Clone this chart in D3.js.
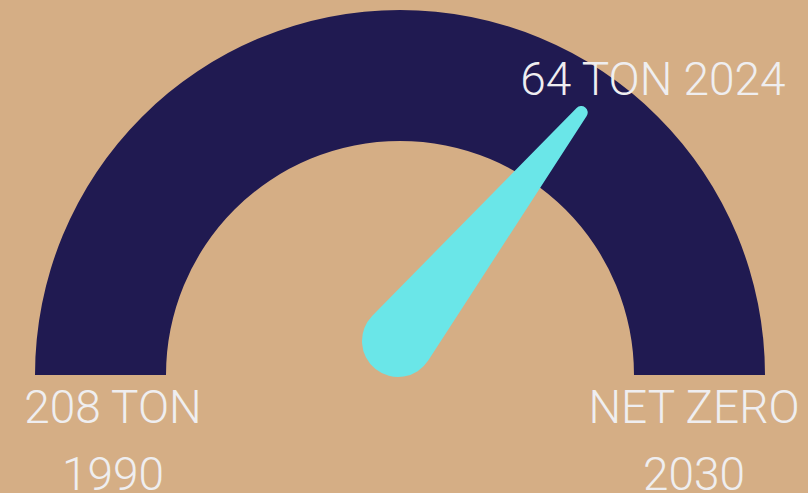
<!DOCTYPE html>
<html>
<head>
<meta charset="utf-8">
<script src="https://cdn.jsdelivr.net/npm/d3@7"></script>
<style>
  html, body { margin: 0; padding: 0; background: #d5ae85; }
  svg { display: block; }
</style>
</head>
<body>
<svg id="chart" width="808" height="493"></svg>
<script>
// gauge data
var maxValue = 208;      // 1990
var minValue = 0;        // net zero 2030
var currentValue = 64;   // 2024
var leftLabels = ['208 TON', '1990'];
var rightLabels = ['NET ZERO', '2030'];
var valueLabel = ['64 TON 2024'];

var width = 808, height = 493;
var cx = 400, cy = 375;
var outerR = 365, innerR = 234;

var svg = d3.select('#chart');

svg.append('rect')
    .attr('width', width)
    .attr('height', height)
    .style('fill', '#d5ae85');

var angle = d3.scaleLinear()
    .domain([maxValue, minValue])
    .range([-Math.PI / 2, Math.PI / 2]);

var g = svg.append('g')
    .attr('transform', 'translate(' + cx + ',' + cy + ')');

var arc = d3.arc()
    .innerRadius(innerR)
    .outerRadius(outerR)
    .startAngle(angle(maxValue))
    .endAngle(angle(minValue));

g.append('path')
    .attr('d', arc())
    .style('fill', '#201a51');

// needle: base blob sits a bit above the centre, tip out on the arc
var a = angle(currentValue);
var tipLen = 319;
var base = {x: -2, y: -34}, r1 = 36;
var tip = {x: tipLen * Math.sin(a), y: -tipLen * Math.cos(a)}, r2 = 6.5;

var dx = tip.x - base.x, dy = tip.y - base.y;
var d = Math.sqrt(dx * dx + dy * dy);
var u = {x: dx / d, y: dy / d};
var p = {x: -u.y, y: u.x};
var th = Math.acos((r1 - r2) / d);
var nP = {x: u.x * Math.cos(th) + p.x * Math.sin(th), y: u.y * Math.cos(th) + p.y * Math.sin(th)};
var nM = {x: u.x * Math.cos(th) - p.x * Math.sin(th), y: u.y * Math.cos(th) - p.y * Math.sin(th)};

var path = d3.path();
path.moveTo(base.x + r1 * nP.x, base.y + r1 * nP.y);
path.lineTo(tip.x + r2 * nP.x, tip.y + r2 * nP.y);
var needleD = path.toString()
    + 'A' + r2 + ',' + r2 + ' 0 0 0 ' + (tip.x + r2 * nM.x) + ',' + (tip.y + r2 * nM.y)
    + 'L' + (base.x + r1 * nM.x) + ',' + (base.y + r1 * nM.y)
    + 'A' + r1 + ',' + r1 + ' 0 1 0 ' + (base.x + r1 * nP.x) + ',' + (base.y + r1 * nP.y)
    + 'Z';

g.append('path')
    .attr('d', needleD)
    .style('fill', '#6ae6e8');

// labels
var font = 'Roboto, sans-serif';
function addLines(lines, x, y0, step) {
    lines.forEach(function (t, i) {
        svg.append('text')
            .attr('x', x)
            .attr('y', y0 + i * step)
            .attr('text-anchor', 'middle')
            .style('font-family', font)
            .style('font-weight', 300)
            .style('font-size', '46px')
            .style('fill', '#efeef0')
            .text(t);
    });
}

addLines(leftLabels, 113, 423, 67);
addLines(rightLabels, 694, 423, 67);
addLines(valueLabel, 653, 95, 0);
</script>
</body>
</html>
